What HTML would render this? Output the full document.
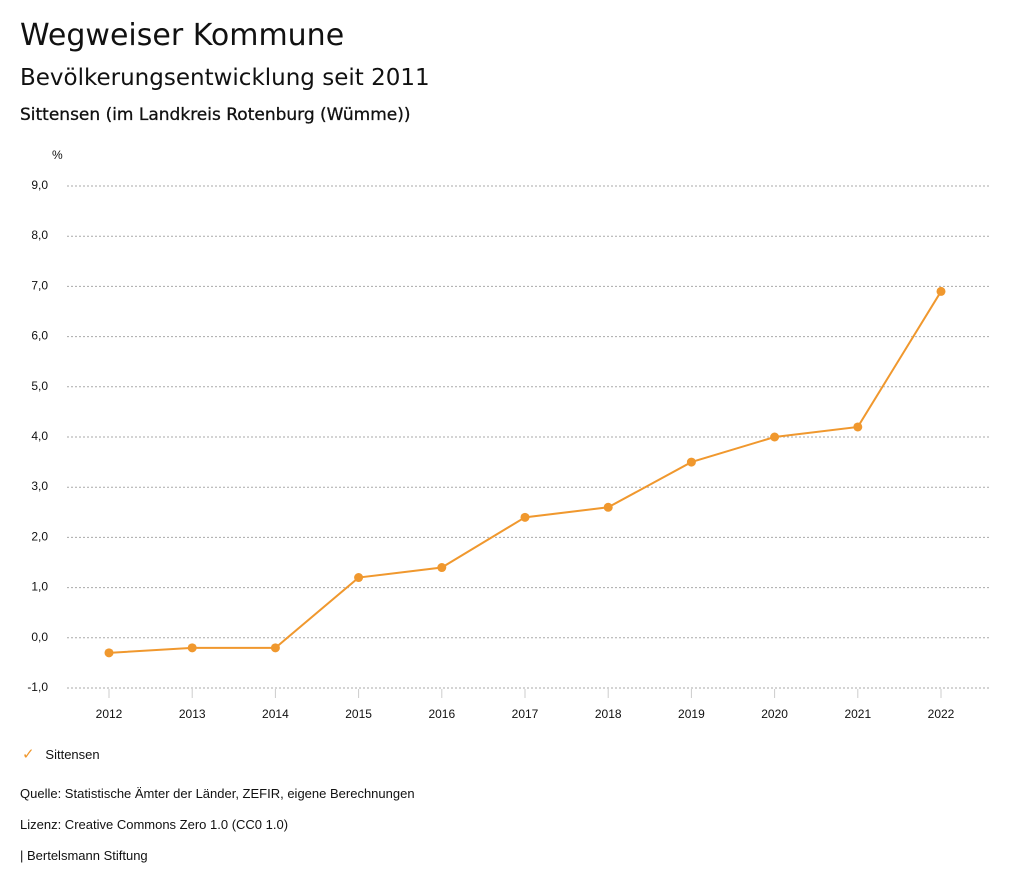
<!DOCTYPE html>
<html><head><meta charset="utf-8"><style>
body{margin:0;background:#fff;font-family:"Liberation Sans",sans-serif;color:#111;width:1024px;height:888px;overflow:hidden;position:relative}
.t{position:absolute;white-space:nowrap}
.d{font-family:"DejaVu Sans",sans-serif}
</style></head><body>
<div class="t d" style="left:20px;top:18px;font-size:30px">Wegweiser Kommune</div>
<div class="t d" style="left:20px;top:65px;font-size:23px">Bevölkerungsentwicklung seit 2011</div>
<div class="t d" style="left:20px;top:105px;font-size:17px;font-weight:500;-webkit-text-stroke:0.3px #111">Sittensen (im Landkreis Rotenburg (Wümme))</div>
<svg id="chart" width="1024" height="740" style="position:absolute;left:0;top:0"></svg>
<div class="t" style="left:22px;top:745px;font-size:13px"><span style="color:#f0982e;font-size:15px">✓</span>&nbsp;&nbsp;&nbsp;Sittensen</div>
<div class="t" style="left:20px;top:786px;font-size:13px">Quelle: Statistische Ämter der Länder, ZEFIR, eigene Berechnungen</div>
<div class="t" style="left:20px;top:817px;font-size:13px">Lizenz: Creative Commons Zero 1.0 (CC0 1.0)</div>
<div class="t" style="left:20px;top:848px;font-size:13px">| Bertelsmann Stiftung</div>
<script>
const years=["2012","2013","2014","2015","2016","2017","2018","2019","2020","2021","2022"];
const values=[-0.3,-0.2,-0.2,1.2,1.4,2.4,2.6,3.5,4.0,4.2,6.9];
const yTicks=[-1,0,1,2,3,4,5,6,7,8,9];
const NS="http://www.w3.org/2000/svg";
const svg=document.getElementById('chart');
const x0=109,dx=83.2,yTop=186,yBot=688,yMin=-1,yMax=9;
const X=i=>x0+i*dx;
const Y=v=>yBot-(v-yMin)/(yMax-yMin)*(yBot-yTop);
function mk(tag,a){const e=document.createElementNS(NS,tag);for(const k in a)e.setAttribute(k,a[k]);svg.appendChild(e);return e;}
const u=mk('text',{x:52,y:159,'font-size':12,fill:'#111'});u.textContent='%';


yTicks.forEach(t=>{
 const l=mk('line',{x1:67,x2:990,y1:Y(t),y2:Y(t),stroke:'#aaa','stroke-dasharray':'2,2','stroke-width':1});
 
 
 const tx=mk('text',{x:48,y:Y(t)+3,'text-anchor':'end','font-size':12,fill:'#111'});
 tx.textContent=t.toFixed(1).replace('.',',');
 
 
});
years.forEach((yr,i)=>{
 const l=mk('line',{x1:X(i),x2:X(i),y1:yBot+1,y2:yBot+10,stroke:'#ccc'});
 
 
 const tx=mk('text',{x:X(i),y:718,'text-anchor':'middle','font-size':12,fill:'#111'});
 tx.textContent=yr;
 
 
});
const p=mk('polyline',{points:values.map((v,i)=>X(i)+','+Y(v)).join(' '),fill:'none',stroke:'#f0982e','stroke-width':2});


values.forEach((v,i)=>{
 const c=mk('circle',{cx:X(i),cy:Y(v),r:4.5,fill:'#f0982e'});
 
 
});
</script>
</body></html>
